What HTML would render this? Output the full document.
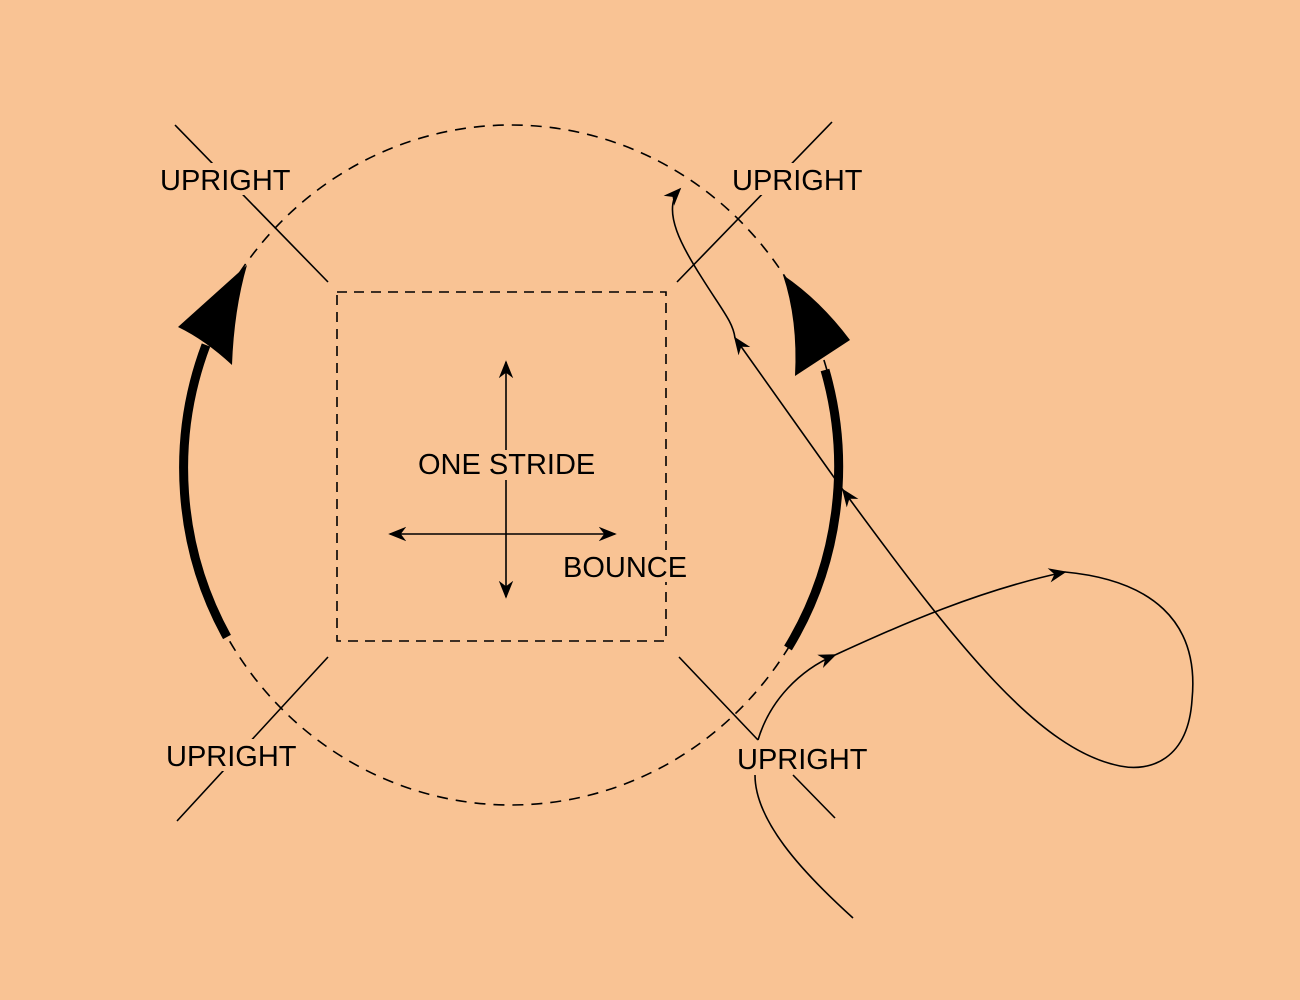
<!DOCTYPE html>
<html><head><meta charset="utf-8"><style>
html,body{margin:0;padding:0;background:#F9C394;}
svg{display:block}
text{font-family:"Liberation Sans",sans-serif;font-size:29px;fill:#000;}
</style></head><body>
<svg width="1300" height="1000" viewBox="0 0 1300 1000" xmlns="http://www.w3.org/2000/svg">
<defs>
<marker id="b" viewBox="0 0 10 10" refX="9" refY="5" markerWidth="18" markerHeight="18" markerUnits="userSpaceOnUse" orient="auto">
<path d="M0,1 L10,5 L0,9 L3,5 Z" fill="#000"/></marker>
</defs>
<rect width="1300" height="1000" fill="#F9C394"/>
<g fill="none" stroke="#000" stroke-width="1.6">
<ellipse cx="511" cy="465" rx="329" ry="340" stroke-dasharray="11,8"/>
<rect x="337" y="292" width="329" height="349" stroke-dasharray="10,7"/>
<line x1="175" y1="125" x2="328" y2="282"/>
<line x1="832" y1="122" x2="677" y2="282"/>
<line x1="328" y1="657" x2="177" y2="821"/>
<line x1="679" y1="657" x2="758" y2="740"/>
<line x1="793" y1="775" x2="835" y2="818"/>
</g>
<g fill="#F9C394">
<rect x="158" y="163" width="134" height="32"/>
<rect x="730" y="163" width="134" height="32"/>
<rect x="164" y="739" width="134" height="32"/>
<rect x="735" y="742" width="134" height="32"/>
<rect x="416" y="447" width="182" height="32"/>
<rect x="561" y="550" width="130" height="32"/>
</g>
<g fill="none" stroke="#000" stroke-width="1.6">
<line x1="506" y1="450" x2="506" y2="362" marker-end="url(#b)"/>
<line x1="506" y1="480" x2="506" y2="597" marker-end="url(#b)"/>
<line x1="506" y1="534" x2="390" y2="534" marker-end="url(#b)"/>
<line x1="506" y1="534" x2="615" y2="534" marker-end="url(#b)"/>
<path d="M853,918 C800,870 755,820 755,775"/>
<path d="M758,740 C770,700 800,670 835,655" marker-end="url(#b)"/>
<path d="M835,655 C900,625 980,590 1065,572" marker-end="url(#b)"/>
<path d="M1065,572 C1150,580 1200,620 1192,700 C1188,760 1150,772 1120,766 C1040,750 960,650 843,490" marker-end="url(#b)"/>
<path d="M843,490 L735,338" marker-end="url(#b)"/>
<path d="M735,338 C733,322 722,310 702,278 C684,250 660,210 680,189" marker-end="url(#b)"/>
</g>
<path d="M227,637 A329,340 0 0 1 206,345" fill="none" stroke="#000" stroke-width="9"/>
<path d="M247,265 L178,327 Q205,340 232,365 Q234,310 247,265 Z" fill="#000"/>
<path d="M788,648 A329,340 0 0 0 825,370" fill="none" stroke="#000" stroke-width="9"/>
<path d="M783,275 Q820,300 850,340 L795,376 Q798,320 783,275 Z" fill="#000"/>
<text x="160" y="190">UPRIGHT</text>
<text x="732" y="190">UPRIGHT</text>
<text x="166" y="766">UPRIGHT</text>
<text x="737" y="769">UPRIGHT</text>
<text x="418" y="474">ONE STRIDE</text>
<text x="563" y="577">BOUNCE</text>
</svg>
</body></html>
